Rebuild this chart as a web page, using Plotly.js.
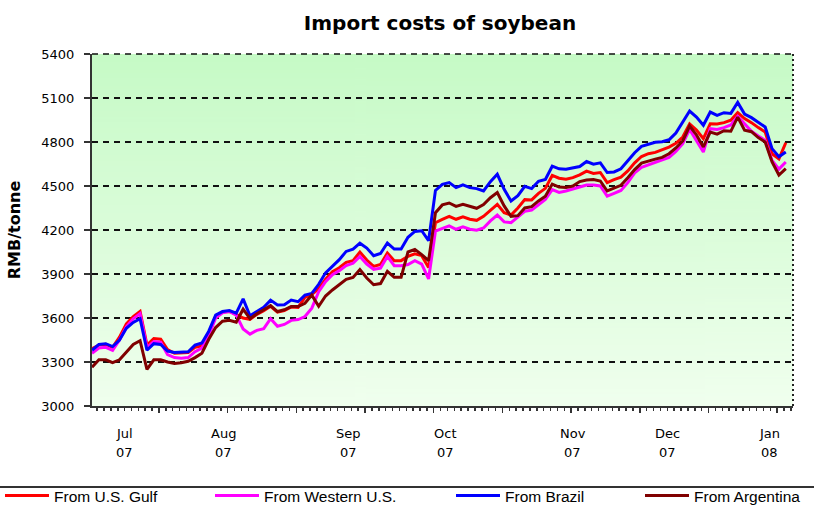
<!DOCTYPE html>
<html>
<head>
<meta charset="utf-8">
<script src="https://cdn.plot.ly/plotly-3.0.1.min.js"></script>
<style>html,body{margin:0;padding:0;background:#fff;}#chart{width:814px;height:506px;}</style>
</head>
<body>
<div id="chart"></div>
<script>
// ---- data (RMB/tonne), one value per observation ----
const usGulf = [3390,3415,3420,3400,3470,3560,3610,3645,3415,3460,3455,3385,3360,3360,3365,3400,3410,3495,3610,3640,
3645,3625,3600,3590,3625,3650,3680,3640,3650,3675,3672,3740,3760,3800,3864,3916,3943,3980,3991,4050,
3995,3952,3965,4043,3991,3991,4020,4038,4025,3945,4250,4273,4293,4273,4289,4273,4266,4293,4336,4375,
4318,4302,4350,4407,4405,4450,4484,4572,4553,4546,4557,4576,4601,4585,4592,4523,4544,4560,4603,4658,
4701,4720,4729,4745,4765,4791,4834,4923,4882,4823,4925,4923,4932,4948,5000,4960,4932,4898,4868,4720,
4685,4795];
const westernUS = [3360,3395,3400,3380,3450,3540,3595,3630,3400,3440,3435,3350,3330,3325,3330,3370,3395,3480,3600,3635,
3645,3620,3525,3490,3516,3527,3595,3544,3556,3584,3589,3610,3667,3780,3848,3895,3923,3957,3973,4020,
3968,3932,3940,4020,3957,3957,3965,3991,3968,3866,4193,4211,4228,4205,4221,4205,4198,4214,4262,4302,
4255,4250,4287,4327,4336,4375,4409,4475,4456,4466,4477,4493,4507,4507,4500,4431,4450,4470,4523,4589,
4628,4644,4660,4676,4695,4736,4789,4886,4811,4732,4891,4886,4898,4916,4975,4925,4873,4841,4811,4675,
4615,4664];
const brazil = [3380,3420,3425,3405,3450,3530,3570,3595,3380,3425,3420,3375,3365,3370,3370,3415,3430,3510,3620,3644,
3651,3633,3730,3615,3644,3673,3722,3689,3691,3722,3711,3756,3767,3830,3908,3950,3998,4054,4070,4110,
4077,4025,4040,4111,4070,4070,4150,4190,4195,4127,4470,4511,4523,4489,4507,4489,4482,4466,4530,4580,
4477,4398,4434,4498,4482,4532,4545,4635,4617,4614,4626,4633,4667,4649,4658,4592,4596,4617,4672,4727,
4770,4786,4798,4802,4815,4861,4932,5011,4970,4914,5004,4982,5000,4995,5070,4990,4966,4932,4902,4755,
4700,4732];
const argentina = [3265,3315,3315,3295,3315,3365,3420,3445,3250,3315,3315,3300,3290,3295,3305,3330,3360,3455,3535,3578,
3584,3571,3660,3595,3629,3656,3684,3644,3656,3678,3678,3700,3756,3680,3750,3791,3827,3864,3877,3930,
3873,3827,3835,3918,3877,3877,4050,4068,4032,3991,4318,4371,4384,4361,4375,4364,4348,4373,4420,4455,
4364,4293,4298,4350,4359,4398,4430,4513,4493,4489,4500,4530,4541,4544,4534,4466,4484,4505,4557,4612,
4656,4672,4683,4695,4720,4759,4807,4909,4848,4766,4868,4854,4877,4873,4970,4880,4870,4830,4800,4664,
4575,4618];

const seriesNames = ["From U.S. Gulf", "From Western U.S.", "From Brazil", "From Argentina"];
const monthNames = ["Jul", "Aug", "Sep", "Oct", "Nov", "Dec", "Jan"];
const yearNames  = ["07", "07", "07", "07", "07", "07", "08"];
const monthAt    = [4.8, 19.2, 37.4, 51.4, 70.0, 83.8, 98.7]; // observation index under each label

// ---- styling ----
const colors = ["#ff0000", "#ff00ff", "#0000ff", "#800000"];
const values = [usGulf, westernUS, brazil, argentina];
const idx = brazil.map((_, i) => i);
const legendIds = ["legend", "legend2", "legend3", "legend4"];

const traces = values.map((v, k) => ({
  x: idx, y: v, type: "scatter", mode: "lines", name: seriesNames[k],
  line: {color: colors[k], width: 3}, legend: legendIds[k], hoverinfo: "skip"
}));

// gradient for the plotting area
const cv = document.createElement("canvas");
cv.width = 4; cv.height = 256;
const cx = cv.getContext("2d");
const g = cx.createLinearGradient(0, 0, 0, 256);
g.addColorStop(0, "rgb(198,250,198)");
g.addColorStop(1, "rgb(240,255,238)");
cx.fillStyle = g; cx.fillRect(0, 0, 4, 256);
const gradURL = cv.toDataURL();

const L = 92, R = 21, T = 54, B = 100, W = 814, H = 506;
const pw = W - L - R, ph = H - T - B;
const px2x = p => (p - L) / pw;
const py2y = p => -(p - (T + ph)) / ph;
const legFont = {family: "Liberation Sans Narrow, Arial Narrow, Liberation Sans, Arial", size: 15.5, color: "#000"};
const axFont = {family: "DejaVu Sans, Verdana", size: 13, color: "#000"};

const layout = {
  width: W, height: H,
  margin: {l: L, r: R, t: T, b: B, pad: 0},
  paper_bgcolor: "#ffffff",
  plot_bgcolor: "rgba(0,0,0,0)",
  showlegend: true,
  title: {text: "<b>Import costs of soybean</b>", x: px2x(440), xref: "paper", xanchor: "center",
          y: 1 - 23 / H, yref: "container", yanchor: "middle",
          font: {family: "DejaVu Sans, Verdana", size: 20, color: "#000"}},
  font: axFont,
  xaxis: {
    range: [0, 102.05], showgrid: false, zeroline: false,
    showline: true, linecolor: "#333", linewidth: 2,
    ticks: "outside", tick0: 9.75, dtick: 10, ticklen: 5, tickwidth: 1.5, tickcolor: "#333",
    showticklabels: false,
    minor: {ticks: "outside", tick0: 0.75, dtick: 1, ticklen: 3, tickwidth: 1.5, tickcolor: "#333", showgrid: false}
  },
  yaxis: {
    range: [3000, 5400], tick0: 3000, dtick: 300,
    showgrid: true, gridcolor: "#111", gridwidth: 1.5, griddash: "6px,5px",
    zeroline: false, showline: true, linecolor: "#333", linewidth: 2,
    ticks: "outside", ticklen: 6, tickwidth: 1.5, tickcolor: "#333",
    ticklabelstandoff: 7,
    tickfont: axFont,
    title: {text: "<b>RMB/tonne</b>", standoff: 17, font: {family: "DejaVu Sans, Verdana", size: 16, color: "#000"}}
  },
  images: [{source: gradURL, xref: "paper", yref: "paper", x: 0, y: 1, sizex: 1, sizey: 1,
            sizing: "stretch", layer: "below", xanchor: "left", yanchor: "top"}],
  shapes: [
    {type: "line", xref: "paper", yref: "paper", x0: 1, x1: 1, y0: 0, y1: 1,
     line: {color: "#222", width: 2, dash: "2px,3px"}},
    {type: "line", xref: "paper", yref: "paper", x0: 0, x1: 1, y0: 1, y1: 1,
     line: {color: "#111", width: 1.5, dash: "6px,5px"}},
    {type: "line", xref: "paper", yref: "paper", x0: px2x(0), x1: px2x(W),
     y0: py2y(487), y1: py2y(487), line: {color: "#333", width: 2}}
  ],
  annotations: []
};

monthNames.forEach((m, k) => {
  layout.annotations.push({x: monthAt[k], xref: "x", y: py2y(433), yref: "paper",
    text: m, showarrow: false, xanchor: "center", yanchor: "middle", font: axFont});
  layout.annotations.push({x: monthAt[k], xref: "x", y: py2y(452), yref: "paper",
    text: yearNames[k], showarrow: false, xanchor: "center", yanchor: "middle", font: axFont});
});

// legend boxes positioned in page pixels (container coordinates => no margin push)
const legLeft = [0, 210, 451, 640];
legendIds.forEach((id, k) => {
  layout[id] = {orientation: "h", x: legLeft[k] / W, xref: "container", xanchor: "left",
    y: 1 - 496 / H, yref: "container", yanchor: "middle",
    bgcolor: "rgba(0,0,0,0)", borderwidth: 0, itemwidth: 44, font: legFont};
});

Plotly.newPlot("chart", traces, layout, {staticPlot: true, displayModeBar: false});
</script>
</body>
</html>
